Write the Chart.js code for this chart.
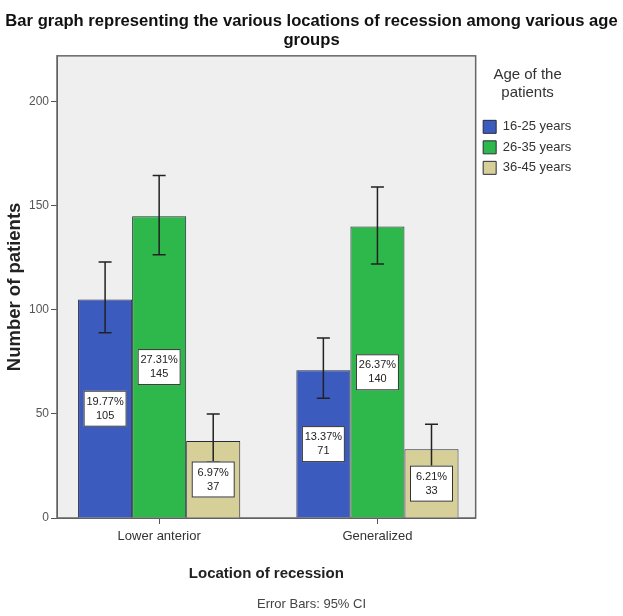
<!DOCTYPE html>
<html><head><meta charset="utf-8">
<script src="https://cdn.jsdelivr.net/npm/chart.js@4"></script>
<style>html,body{margin:0;padding:0;background:#fff}</style>
</head><body>
<canvas id="c" width="623" height="616"></canvas>
<script>
const categories = ['Lower anterior', 'Generalized'];
const seriesNames = ['16-25 years', '26-35 years', '36-45 years'];
const counts1625 = [105, 71];
const counts2635 = [145, 140];
const counts3645 = [37, 33];
const pct1625 = ['19.77%', '13.37%'];
const pct2635 = ['27.31%', '26.37%'];
const pct3645 = ['6.97%', '6.21%'];
const ciLow1625 = [89, 57.5];
const ciHigh1625 = [123, 86.5];
const ciLow2635 = [126.5, 122];
const ciHigh2635 = [164.5, 159];
const ciLow3645 = [27, 24];
const ciHigh3645 = [50, 45];
const yTicks = [0, 50, 100, 150, 200];

const F = "'Liberation Sans', Arial, sans-serif";
const colors = ['#3b5bbf', '#2eb84b', '#d6cf98'];
const counts = [counts1625, counts2635, counts3645];
const pcts = [pct1625, pct2635, pct3645];
const ciLow = [ciLow1625, ciLow2635, ciLow3645];
const ciHigh = [ciHigh1625, ciHigh2635, ciHigh3645];

const datasets = seriesNames.map((name, s) => ({
  label: name,
  data: categories.map((c, i) => ({ x: i, y: counts[s][i] })),
  backgroundColor: colors[s],
  borderColor: '#2a2a3a',
  borderWidth: 1,
  categoryPercentage: 0.743,
  barPercentage: 1
}));

const plotFrame = {
  id: 'plotFrame',
  beforeDraw(chart) {
    const a = chart.chartArea, ctx = chart.ctx;
    ctx.save();
    ctx.fillStyle = '#efefef';
    ctx.fillRect(a.left, a.top, a.right - a.left, a.bottom - a.top);
    ctx.restore();
  },
  beforeDatasetsDraw(chart) {
    const a = chart.chartArea, ctx = chart.ctx;
    ctx.save();
    ctx.strokeStyle = '#666';
    ctx.lineWidth = 1.5;
    ctx.strokeRect(a.left, a.top, a.right - a.left, a.bottom - a.top);
    ctx.restore();
  },
  afterDatasetsDraw(chart) {
    const ctx = chart.ctx, ys = chart.scales.y;
    ctx.save();
    chart.data.datasets.forEach((ds, s) => {
      const meta = chart.getDatasetMeta(s);
      meta.data.forEach((bar, i) => {
        const x = bar.x;
        const yl = ys.getPixelForValue(ciLow[s][i]);
        const yh = ys.getPixelForValue(ciHigh[s][i]);
        ctx.strokeStyle = '#222';
        ctx.lineWidth = 1.5;
        ctx.beginPath();
        ctx.moveTo(x, yl); ctx.lineTo(x, yh);
        ctx.moveTo(x - 6.5, yl); ctx.lineTo(x + 6.5, yl);
        ctx.moveTo(x - 6.5, yh); ctx.lineTo(x + 6.5, yh);
        ctx.stroke();
      });
    });
    chart.data.datasets.forEach((ds, s) => {
      const meta = chart.getDatasetMeta(s);
      meta.data.forEach((bar, i) => {
        const x = bar.x;
        const y = ys.getPixelForValue(counts[s][i] / 2);
        const w = 43, h = 36;
        ctx.fillStyle = '#fff';
        ctx.fillRect(x - w / 2, y - h / 2, w, h);
        ctx.strokeStyle = '#333';
        ctx.lineWidth = 1;
        ctx.strokeRect(x - w / 2 + 0.5, y - h / 2 + 0.5, w - 1, h - 1);
        ctx.fillStyle = '#222';
        ctx.font = '11px ' + F;
        ctx.textAlign = 'center';
        ctx.textBaseline = 'middle';
        ctx.fillText(pcts[s][i], x, y - 7);
        ctx.fillText(String(counts[s][i]), x, y + 7);
      });
    });
    ctx.restore();
  }
};

new Chart(document.getElementById('c'), {
  type: 'bar',
  data: { datasets },
  plugins: [plotFrame],
  options: {
    responsive: false,
    animation: false,
    layout: { padding: 0 },
    plugins: {
      title: {
        display: true,
        text: ['Bar graph representing the various locations of recession among various age', 'groups'],
        font: { family: F, size: 16.6, weight: 'bold', lineHeight: 1.2 },
        color: '#111',
        padding: { top: 11, bottom: 5 }
      },
      subtitle: {
        display: true,
        position: 'bottom',
        text: 'Error Bars: 95% CI',
        font: { family: F, size: 13 },
        color: '#444',
        padding: { top: 0, bottom: 4 }
      },
      legend: {
        position: 'right',
        align: 'start',
        fullSize: false,
        title: {
          display: true,
          text: ['Age of the', 'patients'],
          font: { family: F, size: 15, lineHeight: 1.2 },
          color: '#333',
          padding: { top: 11.5, bottom: 27.5 }
        },
        labels: {
          boxWidth: 13, boxHeight: 13, padding: 7.5,
          font: { family: F, size: 13 },
          color: '#333'
        }
      },
      tooltip: { enabled: false }
    },
    scales: {
      x: {
        type: 'linear',
        position: 'bottom',
        min: -0.468,
        max: 1.45,
        offset: false,
        afterBuildTicks: (s) => { s.ticks = categories.map((c, i) => ({ value: i })); },
        afterFit: (s) => { s.height = 78.4; },
        grid: { display: true, drawOnChartArea: false, drawTicks: true, tickLength: 6, color: '#555', offset: false },
        border: { display: true, color: '#555', width: 1 },
        ticks: {
          padding: 5,
          font: { family: F, size: 13 },
          color: '#333',
          maxRotation: 0,
          autoSkip: false,
          callback: (v) => categories[v]
        },
        title: {
          display: true,
          text: 'Location of recession',
          font: { family: F, size: 15, weight: 'bold', lineHeight: 1.2 },
          color: '#222',
          padding: { top: 20, bottom: 14 }
        }
      },
      y: {
        min: 0,
        max: 222,
        afterBuildTicks: (s) => { s.ticks = yTicks.map(v => ({ value: v })); },
        afterFit: (s) => { s.width = 57; },
        grid: { display: true, drawOnChartArea: false, drawTicks: true, tickLength: 6, color: '#555' },
        border: { display: true, color: '#555', width: 1 },
        ticks: { padding: 2, font: { family: F, size: 12 }, color: '#555' },
        title: {
          display: true,
          text: 'Number of patients',
          font: { family: F, size: 18.5, weight: 'bold', lineHeight: 1.2 },
          color: '#222',
          padding: { top: 4, bottom: 0 }
        }
      },
      pad: {
        type: 'linear',
        position: 'right',
        weight: 2000,
        display: true,
        grid: { display: false },
        border: { display: false },
        ticks: { display: false },
        afterFit: (s) => { s.width = 43.5; }
      }
    }
  }
});
</script>
</body></html>
